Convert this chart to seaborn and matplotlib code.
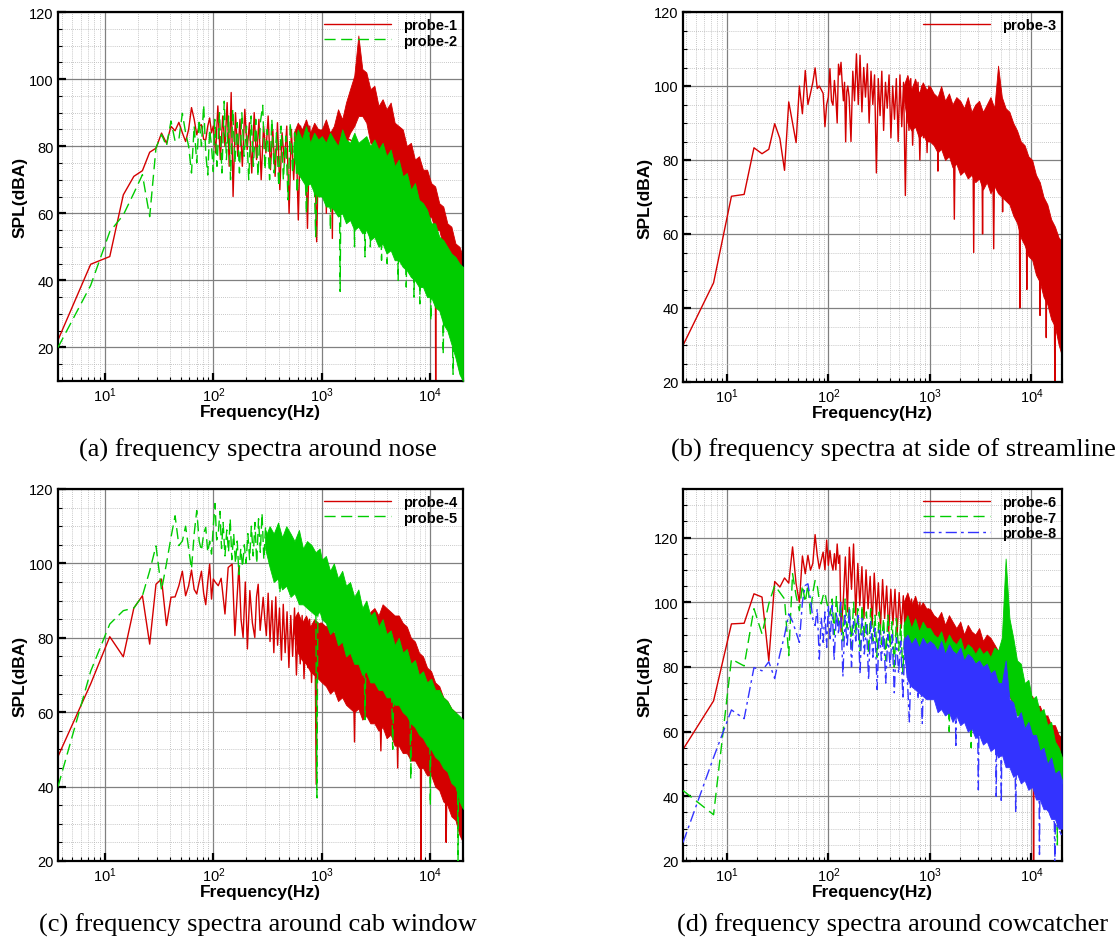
import numpy as np
import pandas as pd
import matplotlib
matplotlib.use("Agg")
import matplotlib.pyplot as plt
import seaborn as sns
from matplotlib.lines import Line2D
from matplotlib.ticker import FixedLocator, MultipleLocator, LogLocator, NullFormatter

sns.set_style("white")
plt.rcParams['font.family'] = ['Liberation Sans', 'DejaVu Sans']
plt.rcParams['mathtext.fontset'] = 'custom'
plt.rcParams['mathtext.rm'] = 'Liberation Sans'
plt.rcParams['mathtext.it'] = 'Liberation Sans:italic'
plt.rcParams['mathtext.bf'] = 'Liberation Sans:bold'
for k in ['text.color', 'axes.labelcolor', 'xtick.color', 'ytick.color']:
    plt.rcParams[k] = 'black'

RED = '#D40000'
GREEN = '#00CC00'
BLUE = '#3333FF'

# ---------------- data ----------------
# frequencies of the dense part of the spectra
fb_pre = [550, 600, 655, 715, 780, 850, 925]
fb = [1000, 1090, 1190, 1290, 1410, 1540, 1670, 1820, 1990, 2170, 2360, 2570, 2800, 3050, 3330, 3630,
      3950, 4310, 4690, 5110, 5570, 6070, 6620, 7210, 7860, 8560, 9330, 10170, 11080, 12080, 13160,
      14340, 15630, 17030, 18560, 20000]

# (a) probe-1
f_p1 = [3.7, 7.4, 11.1, 14.8, 18.5, 22.2, 25.9, 29.6, 33.3, 37.0, 40.7, 44.4, 48.1, 51.8, 55.5, 59.2, 62.9,
        66.6, 70.3, 74.0, 77.7, 81.4, 85.1, 88.8, 92.5, 96.2, 99.9,
        105, 110, 116, 122, 128, 134, 140, 146, 152, 160, 168, 176, 185, 195, 205, 215, 226, 238, 250, 263,
        276, 290, 305, 320, 336, 353, 371, 390, 410, 430, 452, 475, 499, 524, 550, 578, 607, 637, 669, 702,
        737, 774, 813, 853, 896, 940, 987,
        1000, 1080, 1100, 1120, 1230, 1250, 1270, 1800, 2800, 5000, 8000, 11100, 11200, 11300, 15000, 19500]
spl_p1 = [22.2, 44.8, 47.1, 65.5, 71.0, 72.7, 78.2, 79.4, 83.9, 80.9, 85.9, 84.6, 87.1, 84.0, 81.4, 85.0, 91.5,
          88.0, 83.4, 86.0, 86.4, 82.0, 81.9, 86.0, 88.4, 84.0, 86.0,
          78, 92, 76, 89, 80, 93, 74, 96, 65, 90, 77, 88, 74, 91, 79, 87, 72, 90, 76, 88,
          70, 86, 78, 89, 73, 85, 71, 87, 67, 84, 75, 86, 60, 85, 70, 84, 58, 86, 72, 85,
          55.5, 86, 70, 84, 51.5, 85, 72,
          80, 80, 60, 80, 80, 52.5, 80, 82, 78, 72, 66, 62, 10, 62, 52, 45]
hi_p1 = [84, 87, 85, 88, 84, 87, 85,
         85, 88, 84, 86, 91, 88, 93, 97, 101, 113, 103, 102, 97, 98, 92, 94, 91, 93, 87, 86,
         85, 80, 81, 76, 77, 73, 73, 69, 68, 63, 62, 57, 56, 51, 50, 47]
lo_p1 = [82, 79, 80, 77, 79, 76, 78,
         78, 77, 79, 76, 80, 78, 81, 84, 86, 89, 89, 87, 81, 80, 76, 77, 74, 75, 71, 71,
         68, 68, 65, 65, 62, 62, 59, 59, 55, 55, 50, 49, 44, 43, 38, 36]

# (a) probe-2
f_p2 = [3.7, 7.4, 11.1, 14.8, 18.5, 22.2, 25.9, 29.6, 33.3, 37.0, 40.7, 44.4, 48.1, 51.8, 55.5, 59.2, 62.9,
        66.6, 70.3, 74.0, 77.7, 81.4, 85.1, 88.8, 92.5, 96.2, 99.9,
        103, 108, 114, 120, 126, 132, 138, 144, 151, 158, 166, 174, 183, 192, 202, 212, 223, 234, 246, 258,
        271, 285, 299, 314, 330, 346, 364, 382, 401, 421, 442, 465, 488, 512, 538, 565, 593, 623, 654, 687,
        721, 757, 795, 835, 877, 921, 967,
        1010, 1180, 1200, 1220, 1450, 1475, 1500, 1980, 2000, 2020, 2450, 2500, 2550, 2780, 2800, 2820,
        3500, 3550, 3600, 3950, 4000, 4050, 5000, 5050, 5100, 5950, 6000, 6050, 7000, 7070, 7140, 7950,
        8000, 8050, 10000, 10100, 10200, 13000, 13150, 13300, 16000, 16200, 16400, 19000]
spl_p2 = [20.0, 38.5, 54.5, 59.5, 66.0, 71.5, 59.0, 79.5, 83.5, 80.0, 87.5, 81.5, 82.0, 89.8, 84.0, 80.0, 72.0,
          86.0, 75.0, 88.0, 80.0, 92.3, 78.0, 71.4, 85.0, 80.0, 72.4,
          88, 74, 90, 72, 93.4, 76, 89, 70, 91, 75, 87, 72, 90, 77, 86, 70, 89, 74, 88, 71,
          87, 92.2, 73, 85, 70, 88, 72, 84, 68, 86, 70, 83, 64, 87, 72, 84, 66, 83, 70, 82,
          60, 84, 68, 81, 53, 82, 66,
          72, 70, 55, 70, 70, 36.7, 70, 64, 50, 64, 62, 47, 62, 60, 50, 60,
          58, 46, 58, 56, 45, 56, 52, 40, 52, 49, 38, 49, 46, 35, 46, 43,
          33, 43, 40, 28, 40, 32, 18, 32, 22, 12, 22, 12]
hi_p2 = [80, 85, 82, 86, 81, 84, 82,
         83, 81, 84, 82, 80, 85, 82, 81, 84, 81, 82, 83, 80, 82, 79, 81, 77, 79, 74, 76,
         71, 72, 67, 69, 64, 63, 61, 57, 57, 53, 52, 50, 48, 47, 45, 44]
lo_p2 = [77, 72, 70, 68, 69, 66, 65,
         65, 62, 62, 61, 59, 60, 57, 58, 55, 56, 54, 55, 52, 53, 50, 51, 48, 49, 46, 46,
         44, 43, 41, 40, 38, 38, 35, 35, 32, 31, 27, 25, 21, 17, 12, 10]

# (b) probe-3
f_p3 = [3.7, 7.4, 11.1, 14.8, 18.5, 22.2, 25.9, 29.6, 33.3, 37.0, 40.7, 44.4, 48.1, 51.8, 55.5, 59.2, 62.9,
        66.6, 70.3, 74.0, 77.7, 81.4, 85.1, 88.8, 92.5, 96.2, 99.9, 103.6, 107.3, 111.0, 114.7, 118.4,
        122.1, 125.8, 129.5, 133.2, 136.9, 140.6, 144.3, 148.0, 151.7, 155.4,
        160, 167, 174, 181, 189, 197, 205, 214, 223, 232, 242, 252, 263, 274, 285, 297, 310, 323, 336, 350,
        365, 380, 396, 413, 430, 448, 467, 487, 507, 528, 550, 573, 597, 622, 648, 676, 704, 733, 764, 796,
        829, 864, 900, 938, 977,
        1000, 1190, 1200, 1210, 1700, 1740, 1780, 2650, 2700, 2750, 3250, 3300, 3350, 4150, 4250, 4350,
        5150, 5200, 5250, 7600, 7680, 7760, 8900, 9000, 9100, 12000, 12150, 12300, 13900, 14000, 14100,
        16800, 17000, 17200, 19800]
spl_p3 = [29.9, 46.8, 70.2, 70.7, 83.3, 81.7, 82.9, 89.8, 85.8, 77.2, 95.7, 90.0, 84.7, 100.0, 92.5, 104.2,
          95.0, 98.0, 101.0, 104.9, 99.3, 100.0, 99.0, 98.0, 89.0, 95.0, 97.0, 104.7, 96.0, 94.8, 101.5,
          97.0, 90.0, 105.9, 103.0, 106.4, 100.6, 96.0, 101.0, 84.9, 98.4, 100.0,
          97, 85, 104, 96, 108.7, 95, 108.3, 93, 105, 97, 106, 90, 104, 95, 103, 76.5, 102, 92, 104, 88,
          101, 94, 103, 86, 100, 91, 102, 85, 103, 89, 101, 70.4, 100, 88, 102, 84, 99, 90, 101, 80,
          100, 86, 99, 82, 100,
          92, 90, 77, 90, 88, 64, 88, 85, 55, 85, 84, 60, 84, 84, 56, 84,
          82, 66, 82, 72, 40, 72, 66, 45, 66, 60, 38, 60, 52, 32, 52,
          45, 20, 45, 40]
hi_p3 = [100, 103, 99, 102, 98, 101, 99,
         100, 98, 97, 100, 96, 98, 95, 97, 96, 94, 97, 93, 95, 96, 93, 95, 97, 94, 105.5, 97,
         94, 93, 90, 88, 85, 84, 81, 80, 76, 74, 70, 68, 64, 62, 59, 58]
lo_p3 = [97, 90, 88, 89, 86, 87, 85,
         85, 84, 82, 83, 80, 81, 78, 79, 76, 77, 75, 76, 74, 75, 72, 74, 71, 73, 71, 70,
         69, 68, 65, 63, 59, 57, 54, 53, 49, 47, 43, 41, 37, 35, 30, 27]

# (c) probe-4
f_p4 = [3.7, 7.4, 11.1, 14.8, 18.5, 22.2, 25.9, 29.6, 33.3, 37.0, 40.7, 44.4, 48.1, 51.8, 55.5, 59.2, 62.9,
        66.6, 70.3, 74.0, 77.7, 81.4, 85.1, 88.8, 92.5, 96.2, 99.9,
        104, 111, 118, 128, 137, 149, 158, 172, 180, 188, 197, 206, 217, 229, 241, 250, 259, 270, 288, 298, 308,
        320, 333, 347, 361, 376, 391, 407, 424, 441, 459, 478, 497, 517, 538, 560, 583, 607, 632, 658, 685,
        713, 742, 772, 804, 837, 871, 887, 907, 944, 983,
        1000, 1950, 2000, 2050, 3400, 3500, 3600, 4900, 5000, 5100, 8100, 8200, 8300, 13800, 14000, 14200, 19500]
spl_p4 = [48.1, 67.6, 80.3, 74.9, 88.0, 91.3, 78.3, 94.4, 95.8, 83.3, 90.9, 91.0, 94.0, 97.9, 91.3, 94.0, 98.2,
          93.0, 91.8, 95.0, 97.9, 92.0, 88.9, 95.0, 99.8, 90.4, 95.8,
          95, 94, 96, 86.4, 98.9, 99.8, 80.6, 99.4, 85, 80.1, 95, 77, 92.7, 84, 80.1, 91, 94.4, 82, 90.9, 85, 80.6,
          92, 79, 90, 76, 91, 78, 88, 74, 89, 76, 87, 72, 86, 75, 88, 70, 85, 73, 86, 69,
          84, 72, 85, 68, 84, 70, 40.6, 83, 69, 84,
          75, 70, 52, 70, 65, 49.6, 65, 58, 45, 58, 50, 20, 50, 40, 25, 40, 30]
hi_p4 = [85, 87, 84, 86, 83, 85, 84,
         84, 83, 85, 81, 84, 83, 82, 85, 83, 82, 86, 84, 87, 88, 86, 89, 88, 87, 86, 86,
         84, 83, 80, 79, 76, 75, 72, 71, 68, 67, 64, 63, 61, 60, 58, 58]
lo_p4 = [82, 76, 74, 73, 71, 70, 69,
         68, 67, 65, 66, 63, 64, 62, 61, 60, 61, 58, 59, 57, 57, 55, 56, 53, 54, 51, 51,
         49, 49, 47, 47, 45, 45, 43, 43, 40, 39, 36, 35, 32, 31, 27, 25]

# (c) probe-5
f_p5 = [3.7, 7.4, 11.1, 14.8, 18.5, 22.2, 25.9, 29.6, 33.3, 37.0, 40.7, 44.4, 48.1, 51.8, 55.5, 59.2, 62.9,
        66.6, 70.3, 74.0, 77.7, 81.4, 85.1, 88.8, 92.5, 96.2, 99.9, 103.6, 107.3,
        111, 115, 119, 123, 128, 133, 138, 143, 148, 154, 160, 166, 172, 179, 186, 193, 200, 208, 216, 224,
        233, 242, 251, 261, 271, 281, 292, 303,
        330, 400, 410, 420, 880, 900, 920, 2450, 2500, 2550, 4400, 4500, 4600, 6500, 6600, 6700, 9900,
        10000, 10100, 17800, 18000, 18200, 19800]
spl_p5 = [40.0, 71.0, 83.7, 87.3, 88.0, 91.3, 98.0, 104.7, 92.8, 100.0, 107.0, 112.8, 104.8, 106.0, 110.0,
          104.0, 98.5, 108.0, 114.2, 106.0, 103.4, 108.0, 109.7, 103.0, 106.0, 102.5, 110.0, 116.1, 106.3,
          108, 114, 104, 111, 102, 109, 103, 112, 101, 108, 100, 106, 97, 104, 99, 105, 100, 108, 101, 110,
          102, 111, 100, 112, 103, 113.5, 101, 110,
          100, 96, 92, 96, 90, 37, 90, 76, 58, 76, 66, 50, 66, 60, 42, 60, 54,
          35, 54, 44, 20, 44, 40]
fb_p5 = [300, 330, 360, 395, 430, 470, 515, 560, 615, 670, 730, 800, 875, 955,
         1000, 1090, 1190, 1290, 1410, 1540, 1670, 1820, 1990, 2170, 2360, 2570, 2800, 3050, 3330, 3630,
         3950, 4310, 4690, 5110, 5570, 6070, 6620, 7210, 7860, 8560, 9330, 10170, 11080, 12080, 13160,
         14340, 15630, 17030, 18560, 20000]
hi_p5 = [107, 110, 108, 111, 107, 110, 108, 106, 109, 104, 106, 105, 103, 104,
         101, 102, 98, 100, 96, 98, 94, 95, 91, 93, 88, 90, 86, 87, 83, 85, 81, 82, 78, 80, 76, 77,
         73, 74, 70, 71, 68, 69, 66, 66, 64, 63, 61, 60, 59, 58]
lo_p5 = [104, 99, 95, 96, 93, 94, 91, 92, 89, 89, 88, 87, 86, 87,
         85, 84, 81, 82, 78, 79, 75, 76, 73, 73, 70, 71, 68, 68, 66, 66, 64, 64, 62, 62, 60, 59,
         57, 56, 54, 53, 51, 50, 48, 47, 45, 44, 41, 40, 36, 34]

# (d) probe-6
f_p6 = [3.7, 7.4, 11.1, 14.8, 18.5, 22.2, 25.9, 29.6, 33.3, 37.0, 40.7, 44.4, 48.1, 51.8, 55.5, 59.2, 62.9,
        66.6, 70.3, 74.0, 77.7, 81.4, 85.1, 88.8, 92.5, 96.2, 99.9, 103.6, 107.3, 111.0, 114.7, 118.4,
        122.1, 125.8, 129.5, 133.2,
        140, 147, 154, 161, 169, 177, 186, 195, 204, 214, 224, 235, 246, 258, 270, 283, 297, 311, 326, 342,
        358, 375, 393, 412, 432, 453, 475, 498, 522, 547, 573, 601, 630, 660, 692, 725, 760, 797, 835, 875,
        917, 961,
        1000, 2000, 4000, 5000, 5700, 5750, 5800, 9000, 10400, 10500, 10600, 15000, 19500]
spl_p6 = [54.5, 69.5, 93.3, 93.5, 102.6, 101.6, 81.9, 106.4, 104.7, 107.5, 105.9, 117.1, 105.7, 100.0, 114.3,
          108.8, 114.5, 109.9, 112.0, 120.9, 114.5, 110.4, 113.0, 115.5, 110.0, 119.2, 111.4, 116.0, 112.0,
          109.9, 115.0, 110.0, 118.0, 112.0, 114.5, 90.9,
          100, 114, 97, 117, 104, 118, 96, 112, 99, 111, 95, 110, 98, 108, 93, 109, 96, 106, 92, 107,
          95, 105, 91, 104, 93, 104, 90, 103, 92, 102, 89, 102, 91, 101, 88, 100, 90, 100, 87, 99,
          89, 98,
          92, 88, 82, 78, 74, 60, 74, 66, 62, 20, 62, 55, 50]
hi_p6 = [100, 103, 99, 102, 98, 100, 98,
         98, 96, 95, 97, 93, 96, 94, 92, 94, 90, 93, 91, 90, 92, 88, 90, 89, 87, 85, 84,
         82, 80, 77, 77, 74, 74, 71, 71, 68, 68, 65, 65, 62, 62, 59, 58]
lo_p6 = [97, 90, 89, 88, 88, 87, 86,
         86, 86, 84, 85, 83, 84, 82, 83, 81, 82, 80, 81, 79, 80, 77, 78, 76, 77, 74, 75,
         71, 71, 68, 68, 65, 65, 62, 62, 58, 59, 55, 55, 51, 51, 46, 45]

# (d) probe-7
f_p7 = [3.7, 7.4, 11.1, 14.8, 18.5, 22.2, 25.9, 29.6, 33.3, 37.0, 40.7, 44.4, 48.1, 51.8, 55.5, 59.2, 62.9,
        66.6, 70.3, 74.0, 77.7, 81.4, 85.1, 88.8, 92.5, 96.2, 99.9,
        104, 109, 114, 120, 126, 132, 139, 146, 153, 161, 169, 177, 186, 195, 205, 215, 226, 237, 249, 261,
        274, 288, 302, 317, 333, 350, 367, 386, 405, 425, 446, 468, 492, 516, 542, 569, 598, 628, 659, 692,
        727, 763, 801, 841, 883, 927, 973,
        1000, 1500, 1550, 1600, 2500, 2550, 2600, 4000, 5000, 5570, 6000, 7000, 8000, 12000, 17800, 18000,
        18200, 19800]
spl_p7 = [41.8, 34.3, 82.4, 80.3, 98.0, 90.2, 99.5, 105.2, 103.0, 101.0, 83.5, 108.8, 102.0, 97.4, 105.2,
          100.0, 105.4, 96.4, 103.0, 106.7, 105.2, 100.5, 99.5, 102.0, 103.0, 100.0, 98.0,
          96, 101, 90, 102, 93, 100, 88, 101, 92, 99, 86, 100, 90, 98, 85, 99, 89, 97, 84, 98,
          88, 96, 83, 97, 87, 95, 82, 96, 86, 94, 80, 95, 85, 93, 78, 94, 84, 92, 77, 93,
          83, 92, 75, 92, 82, 91, 74,
          85, 84, 60, 84, 80, 55, 80, 76, 76, 100, 80, 75, 70, 62, 52, 25, 52, 45]
hi_p7 = [93, 96, 92, 95, 91, 94, 92,
         92, 90, 89, 91, 87, 90, 88, 87, 89, 85, 87, 86, 84, 86, 84, 85, 83, 86, 85, 89,
         113.5, 95, 89, 82, 81, 75, 76, 70, 71, 66, 67, 62, 63, 57, 55, 52]
lo_p7 = [90, 84, 82, 81, 80, 80, 79,
         80, 80, 77, 78, 75, 76, 74, 75, 73, 74, 71, 72, 69, 70, 67, 68, 65, 67, 64, 66,
         78, 71, 69, 65, 65, 61, 61, 57, 57, 53, 53, 49, 49, 46, 46, 44]

# (d) probe-8
f_p8 = [3.7, 7.4, 11.1, 14.8, 18.5, 22.2, 25.9, 29.6, 33.3, 37.0, 40.7, 44.4, 48.1, 51.8, 55.5, 59.2, 62.9,
        66.6, 70.3, 74.0, 77.7, 81.4, 85.1, 88.8, 92.5, 96.2, 99.9,
        104, 109, 114, 120, 126, 132, 139, 146, 153, 161, 169, 177, 186, 195, 205, 215, 226, 237, 249, 261,
        274, 288, 302, 317, 333, 350, 367, 386, 405, 425, 446, 468, 492, 516, 542, 569, 598, 628, 659, 692,
        727, 763, 801, 841, 883, 927, 973,
        1000, 1780, 1800, 1820, 2950, 3000, 3050, 4450, 4500, 4550, 5000, 5050, 5100, 6900, 7000, 7100,
        11900, 12000, 12100, 16800, 17000, 17200, 19800]
spl_p8 = [25.7, 52.0, 66.7, 64.0, 79.8, 78.8, 81.6, 76.4, 84.0, 89.7, 96.4, 94.0, 90.7, 87.6, 100.0, 105.2,
          105.7, 101.0, 94.8, 92.8, 98.0, 82.4, 95.3, 87.6, 97.0, 86.0, 99.0,
          88, 99, 82, 97, 90, 100, 77, 96, 86, 98, 80, 94, 88, 96, 78, 95, 84, 93, 76, 94,
          83, 92, 73, 92, 82, 91, 75, 90, 80, 90, 72, 89, 78, 88, 70, 89, 77, 63, 87, 76,
          88, 70, 86, 62.5, 87, 74, 86,
          80, 72, 55, 72, 65, 42, 65, 58, 40, 58, 55, 38, 55, 50, 35, 50,
          40, 22, 40, 32, 20, 32, 28]
hi_p8 = [88, 90, 87, 89, 86, 89, 87,
         88, 87, 85, 88, 84, 87, 85, 84, 86, 82, 84, 83, 81, 82, 80, 81, 78, 79, 75, 75,
         82, 70, 69, 64, 66, 61, 63, 59, 59, 54, 55, 50, 52, 47, 48, 45]
lo_p8 = [85, 76, 74, 73, 72, 71, 70,
         70, 70, 66, 67, 65, 66, 63, 65, 62, 63, 60, 61, 58, 59, 56, 57, 54, 55, 52, 53,
         49, 49, 46, 47, 44, 45, 42, 43, 39, 39, 36, 36, 33, 33, 30, 30]

captions = ["(a) frequency spectra around nose",
            "(b) frequency spectra at side of streamline",
            "(c) frequency spectra around cab window",
            "(d) frequency spectra around cowcatcher"]

# ---------------- drawing ----------------
W, H = 1120, 945
fig = plt.figure(figsize=(W / 100, H / 100), dpi=100)
fbx = fb_pre + fb


def px_axes(l, t, r, b):
    return fig.add_axes([l / W, 1 - b / H, (r - l) / W, (b - t) / H])


LS = {'solid': '-', 'dash': (0, (8, 4)), 'dashdot': (0, (8, 3, 2, 3))}
COL = {'solid': RED, 'dash': GREEN, 'dashdot': BLUE}


def draw_series(ax, f, v, fband, hi, lo, kind, z):
    df = pd.DataFrame({'f': f, 'spl': v})
    sns.lineplot(data=df, x='f', y='spl', ax=ax, color=COL[kind], linestyle=LS[kind],
                 linewidth=1.0, sort=False, estimator=None, zorder=z)
    ax.fill_between(fband, lo, hi, color=COL[kind], linewidth=0.6, zorder=z)


def setup(ax, ylim, labels):
    ax.set_xscale('log')
    ax.set_xlim(3.7, 20000)
    ax.set_ylim(*ylim)
    ax.yaxis.set_major_locator(FixedLocator([20, 40, 60, 80, 100, 120]))
    ax.yaxis.set_minor_locator(MultipleLocator(5))
    ax.xaxis.set_major_locator(FixedLocator([10, 100, 1000, 10000]))
    ax.set_xticklabels([r'$10^{1}$', r'$10^{2}$', r'$10^{3}$', r'$10^{4}$'])
    ax.xaxis.set_minor_locator(LogLocator(base=10, subs=np.arange(2, 10), numticks=30))
    ax.xaxis.set_minor_formatter(NullFormatter())
    ax.grid(which='major', color='#808080', linewidth=0.9, linestyle='-')
    ax.grid(which='minor', color='#b5b5b5', linewidth=0.6, linestyle=(0, (1, 1.5)))
    ax.set_axisbelow(True)
    for s in ax.spines.values():
        s.set_color('black')
        s.set_linewidth(1.6)
    ax.tick_params(which='major', direction='in', length=6, width=1.6, left=True, bottom=True,
                   labelsize=10.5, pad=3, colors='black')
    ax.tick_params(which='minor', direction='in', length=3, width=0.8, left=True, bottom=True)
    ax.set_xlabel('Frequency(Hz)', fontsize=12.5, fontweight='bold', labelpad=0, color='black')
    ax.set_ylabel('SPL(dBA)', fontsize=12.5, fontweight='bold', labelpad=1, color='black')
    handles = [Line2D([0], [0], color=COL[k], linestyle=LS[k], linewidth=1.0) for k, _ in labels]
    ax.legend(handles=handles, labels=[t for _, t in labels], loc='upper right', frameon=False,
              prop={'weight': 'bold', 'size': 10.5}, handlelength=4.6, handletextpad=0.8,
              labelspacing=0.12, borderaxespad=0.2, borderpad=0.2)


# (a)
axa = px_axes(58, 13, 463, 382)
draw_series(axa, f_p1, spl_p1, fbx, hi_p1, lo_p1, 'solid', 2)
draw_series(axa, f_p2, spl_p2, fbx, hi_p2, lo_p2, 'dash', 3)
setup(axa, (10, 120), [('solid', 'probe-1'), ('dash', 'probe-2')])

# (b)
axb = px_axes(683, 13, 1062, 383)
draw_series(axb, f_p3, spl_p3, fbx, hi_p3, lo_p3, 'solid', 2)
setup(axb, (20, 120), [('solid', 'probe-3')])

# (c)
axc = px_axes(58, 490, 463, 862)
draw_series(axc, f_p4, spl_p4, fbx, hi_p4, lo_p4, 'solid', 2)
draw_series(axc, f_p5, spl_p5, fb_p5, hi_p5, lo_p5, 'dash', 3)
setup(axc, (20, 120), [('solid', 'probe-4'), ('dash', 'probe-5')])

# (d)
axd = px_axes(683, 490, 1062, 862)
draw_series(axd, f_p6, spl_p6, fbx, hi_p6, lo_p6, 'solid', 2)
draw_series(axd, f_p7, spl_p7, fbx, hi_p7, lo_p7, 'dash', 3)
draw_series(axd, f_p8, spl_p8, fbx, hi_p8, lo_p8, 'dashdot', 4)
setup(axd, (20, 135), [('solid', 'probe-6'), ('dash', 'probe-7'), ('dashdot', 'probe-8')])

cap_pos = [(258, 450), (893, 450), (258, 925), (893, 925)]
for (cx, cy), txt in zip(cap_pos, captions):
    fig.text(cx / W, 1 - cy / H, txt, ha='center', va='center',
             fontfamily='Liberation Serif', fontsize=19, color='black')

fig.savefig('out.png', dpi=100, facecolor='white')
